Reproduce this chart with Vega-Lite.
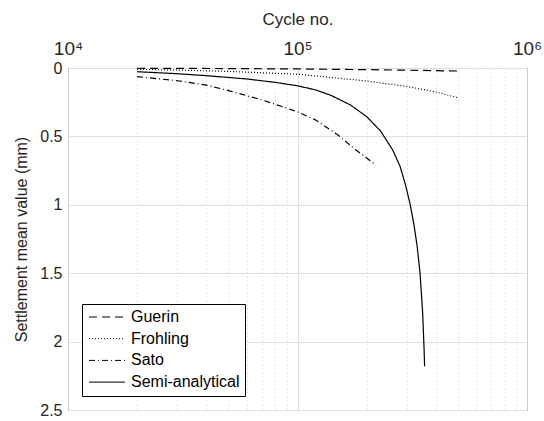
{
  "$schema": "https://vega.github.io/schema/vega-lite/v6.json",
  "width": 459,
  "height": 342,
  "autosize": "none",
  "padding": {"left": 68, "top": 68, "right": 17, "bottom": 11},
  "background": "white",
  "config": {
    "font": "Liberation Sans",
    "view": {"stroke": "#262626", "strokeWidth": 1}
  },
  "data": {
    "values": [
      {"N": 20000, "s": 0.002, "model": "Guerin"},
      {"N": 50000, "s": 0.004, "model": "Guerin"},
      {"N": 100000, "s": 0.007, "model": "Guerin"},
      {"N": 200000, "s": 0.012, "model": "Guerin"},
      {"N": 300000, "s": 0.016, "model": "Guerin"},
      {"N": 500000, "s": 0.022, "model": "Guerin"},

      {"N": 20000, "s": 0.01, "model": "Frohling"},
      {"N": 30000, "s": 0.015, "model": "Frohling"},
      {"N": 50000, "s": 0.025, "model": "Frohling"},
      {"N": 100000, "s": 0.045, "model": "Frohling"},
      {"N": 200000, "s": 0.095, "model": "Frohling"},
      {"N": 300000, "s": 0.135, "model": "Frohling"},
      {"N": 400000, "s": 0.175, "model": "Frohling"},
      {"N": 500000, "s": 0.217, "model": "Frohling"},

      {"N": 20000, "s": 0.063, "model": "Sato"},
      {"N": 30000, "s": 0.093, "model": "Sato"},
      {"N": 40000, "s": 0.125, "model": "Sato"},
      {"N": 50000, "s": 0.165, "model": "Sato"},
      {"N": 70000, "s": 0.233, "model": "Sato"},
      {"N": 85000, "s": 0.28, "model": "Sato"},
      {"N": 100000, "s": 0.32, "model": "Sato"},
      {"N": 120000, "s": 0.38, "model": "Sato"},
      {"N": 150000, "s": 0.49, "model": "Sato"},
      {"N": 180000, "s": 0.6, "model": "Sato"},
      {"N": 220000, "s": 0.71, "model": "Sato"},

      {"N": 20000, "s": 0.027, "model": "Semi-analytical"},
      {"N": 30000, "s": 0.042, "model": "Semi-analytical"},
      {"N": 40000, "s": 0.056, "model": "Semi-analytical"},
      {"N": 60000, "s": 0.08, "model": "Semi-analytical"},
      {"N": 80000, "s": 0.105, "model": "Semi-analytical"},
      {"N": 100000, "s": 0.13, "model": "Semi-analytical"},
      {"N": 120000, "s": 0.16, "model": "Semi-analytical"},
      {"N": 140000, "s": 0.2, "model": "Semi-analytical"},
      {"N": 170000, "s": 0.27, "model": "Semi-analytical"},
      {"N": 200000, "s": 0.355, "model": "Semi-analytical"},
      {"N": 230000, "s": 0.46, "model": "Semi-analytical"},
      {"N": 260000, "s": 0.6, "model": "Semi-analytical"},
      {"N": 280000, "s": 0.72, "model": "Semi-analytical"},
      {"N": 295000, "s": 0.85, "model": "Semi-analytical"},
      {"N": 310000, "s": 1.0, "model": "Semi-analytical"},
      {"N": 322000, "s": 1.15, "model": "Semi-analytical"},
      {"N": 332000, "s": 1.3, "model": "Semi-analytical"},
      {"N": 342000, "s": 1.5, "model": "Semi-analytical"},
      {"N": 351000, "s": 1.79, "model": "Semi-analytical"},
      {"N": 356000, "s": 2.05, "model": "Semi-analytical"},
      {"N": 358000, "s": 2.18, "model": "Semi-analytical"}
    ]
  },
  "mark": {"type": "line", "color": "black", "strokeWidth": 1.2},
  "encoding": {
    "x": {
      "field": "N",
      "type": "quantitative",
      "scale": {"type": "log", "domain": [10000, 1000000], "nice": false},
      "axis": {
        "orient": "top",
        "title": "Cycle no.",
        "titleFontSize": 17,
        "titleFontWeight": "normal",
        "titleColor": "#262626",
        "titlePadding": 11,
        "values": [10000, 20000, 30000, 40000, 50000, 60000, 70000, 80000, 90000, 100000, 200000, 300000, 400000, 500000, 600000, 700000, 800000, 900000, 1000000],
        "labelExpr": "datum.value == 10000 ? '10⁴' : datum.value == 100000 ? '10⁵' : datum.value == 1000000 ? '10⁶' : ''",
        "labelOverlap": false,
        "labelFontSize": 19,
        "labelColor": "#262626",
        "labelPadding": 10,
        "labelFlush": false,
        "domain": false,
        "ticks": false,
        "grid": true,
        "gridColor": {"condition": {"test": "datum.value == 100000", "value": "#dddddd"}, "value": "#cccccc"},
        "gridDash": {"condition": {"test": "datum.value == 10000 || datum.value == 100000 || datum.value == 1000000", "value": []}, "value": [1, 3]},
        "gridWidth": 1
      }
    },
    "y": {
      "field": "s",
      "type": "quantitative",
      "scale": {"domain": [0, 2.5], "reverse": true, "nice": false},
      "axis": {
        "title": "Settlement mean value (mm)",
        "titleFontSize": 16,
        "titleFontWeight": "normal",
        "titleColor": "#262626",
        "titlePadding": 10,
        "values": [0, 0.5, 1, 1.5, 2, 2.5],
        "format": "~g",
        "labelFontSize": 16,
        "labelColor": "#262626",
        "labelPadding": 6,
        "labelFlush": false,
        "domain": false,
        "ticks": false,
        "grid": true,
        "gridColor": "#e0e0e0"
      }
    },
    "strokeDash": {
      "field": "model",
      "type": "nominal",
      "scale": {
        "domain": ["Guerin", "Frohling", "Sato", "Semi-analytical"],
        "range": [[8, 5], [1, 2], [6, 3, 1, 3], [1, 0]]
      },
      "legend": {
        "title": null,
        "orient": "none",
        "legendX": 14,
        "legendY": 236,
        "symbolType": "M-1,0H5",
        "symbolSize": 144,
        "symbolStrokeColor": "black",
        "symbolStrokeWidth": 1,
        "labelFontSize": 16,
        "labelColor": "black",
        "labelOffset": 28,
        "rowPadding": 5.7,
        "strokeColor": "black",
        "fillColor": "white",
        "padding": 5
      }
    }
  }
}
